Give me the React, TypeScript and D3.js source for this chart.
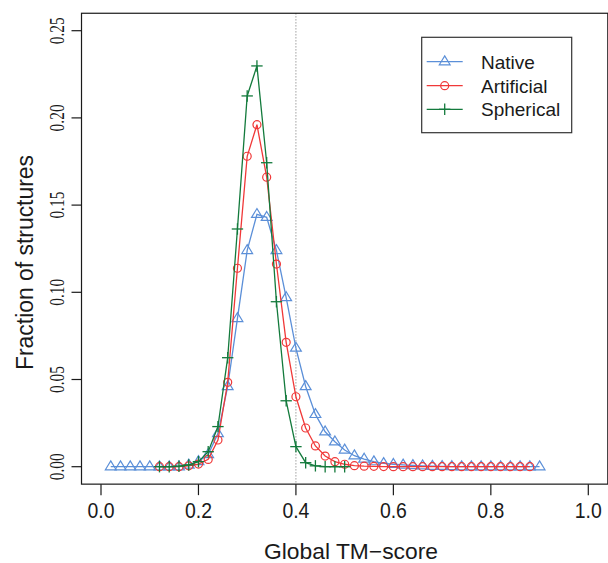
import React from "react";
import * as d3 from "d3";

const nativeX = [0.02,0.04,0.06,0.08,0.10,0.12,0.14,0.16,0.18,0.20,0.22,0.24,0.26,0.28,0.30,0.32,0.34,0.36,0.38,0.40,0.42,0.44,0.46,0.48,0.50,0.52,0.54,0.56,0.58,0.60,0.62,0.64,0.66,0.68,0.70,0.72,0.74,0.76,0.78,0.80,0.82,0.84,0.86,0.88,0.90];
const nativeY = [0,0,0,0,0,0,0,0,0.001,0.003,0.007,0.019,0.046,0.085,0.124,0.1447,0.143,0.124,0.097,0.068,0.046,0.030,0.020,0.0143,0.0096,0.0063,0.0044,0.0029,0.0019,0.0014,0.001,0.0007,0.0005,0.0003,0.0002,0.0001,0,0,0,0,0,0,0,0,0];

const artificialX = [0.12,0.14,0.16,0.18,0.20,0.22,0.24,0.26,0.28,0.30,0.32,0.34,0.36,0.38,0.40,0.42,0.44,0.46,0.48,0.50,0.52,0.54,0.56,0.58,0.60,0.62,0.64,0.66,0.68,0.70,0.72,0.74,0.76,0.78,0.80,0.82,0.84,0.86,0.88];
const artificialY = [0,0,0,0.0005,0.0015,0.0042,0.0153,0.0484,0.1138,0.178,0.1961,0.166,0.1162,0.0713,0.0401,0.0222,0.0119,0.0061,0.0029,0.0014,0.0006,0.0003,0.0002,0.0001,0,0,0,0,0,0,0,0,0,0,0,0,0,0,0];

const sphericalX = [0.12,0.14,0.16,0.18,0.20,0.22,0.24,0.26,0.28,0.30,0.32,0.34,0.36,0.38,0.40,0.42,0.44,0.46,0.48,0.50];
const sphericalY = [0,0,0.0003,0.001,0.0029,0.0086,0.023,0.0625,0.1363,0.2126,0.2298,0.1743,0.0946,0.0378,0.0115,0.0023,0.0005,0,0,0];

const xTicks = [0, 0.2, 0.4, 0.6, 0.8, 1.0];
const xTickLabels = ["0.0", "0.2", "0.4", "0.6", "0.8", "1.0"];
const yTicks = [0, 0.05, 0.1, 0.15, 0.2, 0.25];
const yTickLabels = ["0.00", "0.05", "0.10", "0.15", "0.20", "0.25"];
const seriesNames = ["Native", "Artificial", "Spherical"];

const COLORS = ["#5b8fd8", "#f03838", "#137a3c"];
const SANS = "Liberation Sans, Arial, Helvetica, sans-serif";
const SERIF = "Liberation Serif, Times New Roman, serif";
const INK = "#1a1a1a";

function Marker({ kind, x, y, color }: { kind: number; x: number; y: number; color: string }) {
  if (kind === 0) {
    const h = 5.4;
    const pts = `${x},${y - 5.8} ${x + h},${y + 3.1} ${x - h},${y + 3.1}`;
    return <polygon points={pts} fill="none" stroke={color} strokeWidth={1.2} />;
  }
  if (kind === 1) {
    return <circle cx={x} cy={y} r={4} fill="none" stroke={color} strokeWidth={1.2} />;
  }
  const s = 5.7;
  return (
    <g stroke={color} strokeWidth={1.3}>
      <line x1={x - s} x2={x + s} y1={y} y2={y} />
      <line x1={x} x2={x} y1={y - s} y2={y + s} />
    </g>
  );
}

export default function App() {
  const xs = d3.scaleLinear().domain([0, 1]).range([101, 588.3]);
  const ys = d3.scaleLinear().domain([0, 0.25]).range([466.7, 30.7]);
  const boxL = xs(-0.04), boxR = xs(1.04), boxT = ys(0.26), boxB = ys(-0.01);

  const series = [
    { xv: nativeX, yv: nativeY },
    { xv: artificialX, yv: artificialY },
    { xv: sphericalX, yv: sphericalY },
  ];
  const line = d3.line<[number, number]>().x((d) => xs(d[0])).y((d) => ys(d[1]));

  const legRows = [61.7, 85.7, 109.3];

  return (
    <svg width={608} height={563} style={{ position: "absolute", left: 0, top: 0, background: "#fff" }}>
      <rect x={0} y={0} width={608} height={563} fill="#fff" />
      <line x1={xs(0.4)} x2={xs(0.4)} y1={boxT} y2={boxB} stroke="#888" strokeWidth={1} strokeDasharray="1.2,1.8" />
      {series.map((s, i) => {
        const pts: [number, number][] = s.xv.map((xv, j) => [xv, s.yv[j]]);
        return (
          <g key={i}>
            <path d={line(pts) || ""} fill="none" stroke={COLORS[i]} strokeWidth={1.3} />
            {pts.map((p, j) => (
              <Marker key={j} kind={i} x={xs(p[0])} y={ys(p[1])} color={COLORS[i]} />
            ))}
          </g>
        );
      })}
      <rect x={boxL} y={boxT} width={boxR - boxL} height={boxB - boxT} fill="none" stroke={INK} strokeWidth={1.2} />
      {xTicks.map((t, i) => (
        <g key={i}>
          <line x1={xs(t)} x2={xs(t)} y1={boxB} y2={boxB + 11} stroke={INK} strokeWidth={1.2} />
          <text x={xs(t)} y={518} textAnchor="middle" fontFamily={SANS} fontSize={22} fill={INK}
            textLength={27} lengthAdjust="spacingAndGlyphs">{xTickLabels[i]}</text>
        </g>
      ))}
      {yTicks.map((t, i) => (
        <g key={i}>
          <line x1={boxL - 10} x2={boxL} y1={ys(t)} y2={ys(t)} stroke={INK} strokeWidth={1.2} />
          <text transform={`translate(63.5,${ys(t)}) rotate(-90)`} textAnchor="middle" fontFamily={SERIF} fontSize={20} fill={INK}
            textLength={27} lengthAdjust="spacingAndGlyphs">{yTickLabels[i]}</text>
        </g>
      ))}
      <text x={351} y={559} textAnchor="middle" fontFamily={SANS} fontSize={22.5} fill={INK}
        textLength={174} lengthAdjust="spacingAndGlyphs">Global TM−score</text>
      <text transform={`translate(33,262.5) rotate(-90)`} textAnchor="middle" fontFamily={SANS} fontSize={23} fill={INK}
        textLength={215} lengthAdjust="spacingAndGlyphs">Fraction of structures</text>
      <rect x={421.7} y={37.3} width={150} height={95.4} fill="#fff" stroke="#333" strokeWidth={1.2} />
      {seriesNames.map((n, i) => (
        <g key={n}>
          <line x1={426.7} x2={462.7} y1={legRows[i]} y2={legRows[i]} stroke={COLORS[i]} strokeWidth={1.3} />
          <Marker kind={i} x={444.7} y={legRows[i]} color={COLORS[i]} />
          <text x={481} y={legRows[i] + 7} fontFamily={SANS} fontSize={19} fill={INK}>{n}</text>
        </g>
      ))}
    </svg>
  );
}
